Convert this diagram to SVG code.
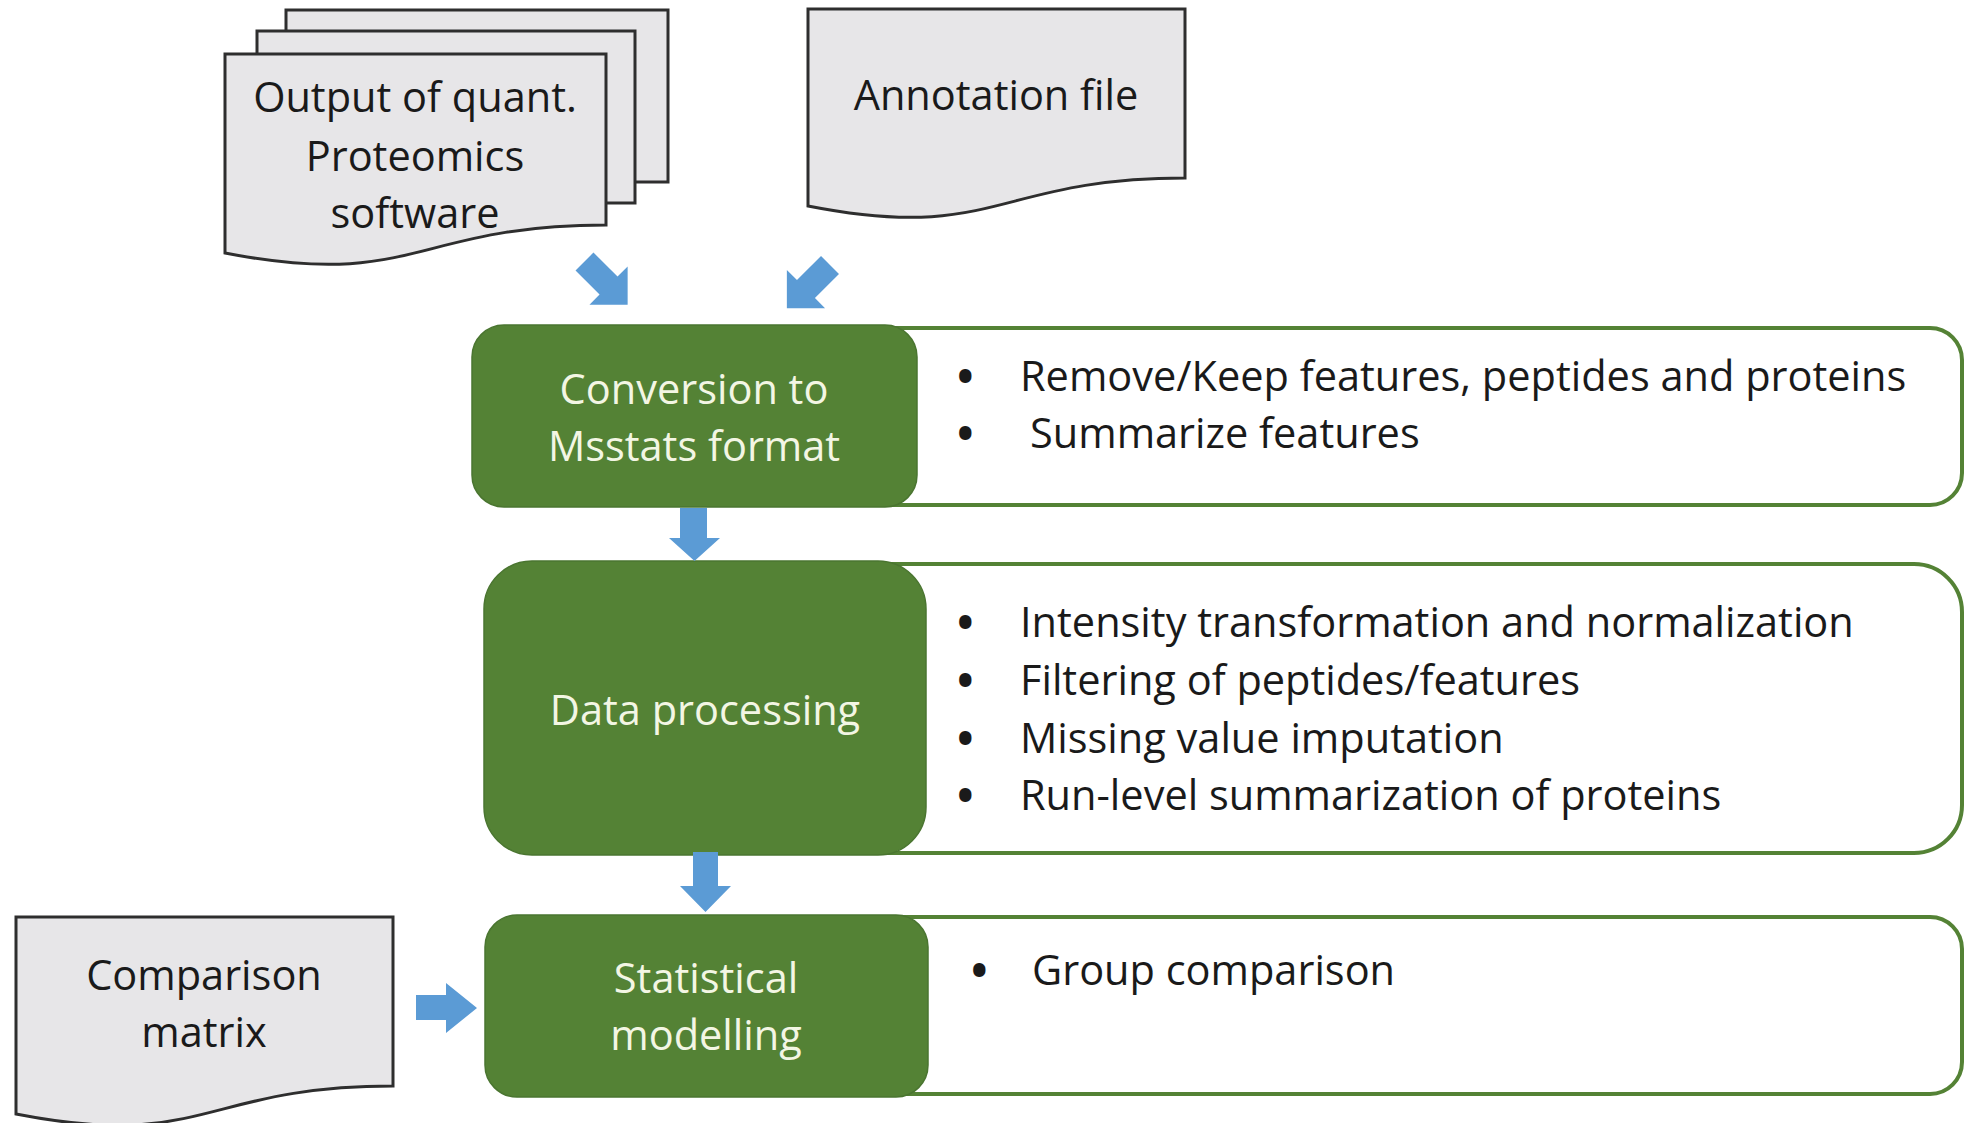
<svg xmlns="http://www.w3.org/2000/svg" width="1964" height="1123" viewBox="0 0 1964 1123">
  <style>
    text { font-family: "Open Sans", "Liberation Sans", sans-serif; font-size: 41.5px; }
    .doc { fill: #e7e6e8; stroke: #2e2e2e; stroke-width: 3; }
    .step { fill: #548235; stroke: #4a7530; stroke-width: 1.5; }
    .panel { fill: #ffffff; stroke: #548235; stroke-width: 4; }
    .dark { fill: #1a1a1a; }
    .bullet { fill: #1a1a1a; font-weight: bold; font-size: 44px; }
    .light { fill: #f3f6e4; text-anchor: middle; }
    .mid { text-anchor: middle; }
    .arrow { fill: #5b9bd5; }
  </style>
  <defs>
    <!-- block arrow pointing along +x, tail at origin -->
    <path id="diag" d="M0,-12.7 H34 V-27 L61,0 L34,27 V12.7 H0 Z"/>
  </defs>

  <rect width="1964" height="1123" fill="#ffffff"/>

  <!-- stacked output documents -->
  <g id="quant-output">
    <rect class="doc" x="286" y="10" width="382" height="172"/>
    <rect class="doc" x="257" y="31" width="378" height="172"/>
    <path class="doc" d="M225,54 H606 V225 C415,225 415,290 225,253 Z"/>
    <text class="dark mid" x="415" y="112">Output of quant.</text>
    <text class="dark mid" x="415" y="171">Proteomics</text>
    <text class="dark mid" x="415" y="228">software</text>
  </g>

  <g id="annotation-file">
    <path class="doc" d="M808,9 H1185 V178 C996,178 996,243 808,206 Z"/>
    <text class="dark mid" x="996" y="110">Annotation file</text>
  </g>

  <g id="comparison-matrix">
    <path class="doc" d="M16,917 H393 V1086 C204,1086 204,1151 16,1114 Z"/>
    <text class="dark mid" x="204" y="990">Comparison</text>
    <text class="dark mid" x="204" y="1047">matrix</text>
  </g>

  <!-- step 1 -->
  <g id="conversion">
    <rect class="panel" x="820" y="328" width="1142" height="177" rx="32"/>
    <rect class="step" x="472" y="325" width="445" height="182" rx="32"/>
    <text class="light" x="694" y="404">Conversion to</text>
    <text class="light" x="694" y="461">Msstats format</text>
    <text class="bullet" x="957" y="392">•</text>
    <text class="dark" x="1020" y="391">Remove/Keep features, peptides and proteins</text>
    <text class="bullet" x="957" y="449">•</text>
    <text class="dark" x="1030" y="448">Summarize features</text>
  </g>

  <!-- step 2 -->
  <g id="data-processing">
    <rect class="panel" x="820" y="564" width="1142" height="289" rx="48"/>
    <rect class="step" x="484" y="561" width="442" height="294" rx="48"/>
    <text class="light" x="705" y="725">Data processing</text>
    <text class="bullet" x="957" y="638">•</text>
    <text class="dark" x="1020" y="637">Intensity transformation and normalization</text>
    <text class="bullet" x="957" y="696">•</text>
    <text class="dark" x="1020" y="695">Filtering of peptides/features</text>
    <text class="bullet" x="957" y="754">•</text>
    <text class="dark" x="1020" y="753">Missing value imputation</text>
    <text class="bullet" x="957" y="811">•</text>
    <text class="dark" x="1020" y="810">Run-level summarization of proteins</text>
  </g>

  <!-- step 3 -->
  <g id="statistical-modelling">
    <rect class="panel" x="820" y="917" width="1142" height="177" rx="32"/>
    <rect class="step" x="485" y="915" width="443" height="182" rx="32"/>
    <text class="light" x="706" y="993">Statistical</text>
    <text class="light" x="706" y="1050">modelling</text>
    <text class="bullet" x="971" y="986">•</text>
    <text class="dark" x="1032" y="985">Group comparison</text>
  </g>

  <!-- connectors -->
  <g id="connectors">
    <use href="#diag" class="arrow" transform="translate(584.5,261.5) rotate(45)"/>
    <use href="#diag" class="arrow" transform="translate(830,265) rotate(135)"/>
    <path class="arrow" d="M680,508 H707 V538 H720 L694.5,561 L669,538 H680 Z"/>
    <path class="arrow" d="M693,852 H718 V886 H731 L705.5,912 L680,886 H693 Z"/>
    <path class="arrow" d="M416,995 H446 V983 L477,1008 L446,1033 V1020 H416 Z"/>
  </g>
</svg>
